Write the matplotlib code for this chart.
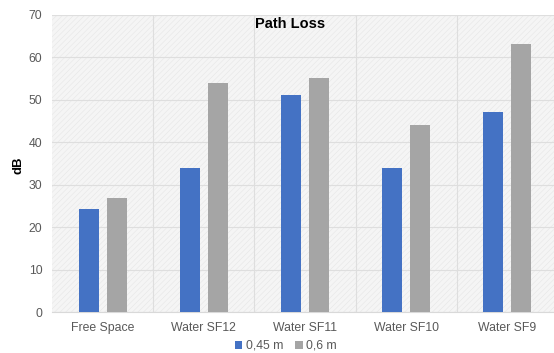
import numpy as np
import matplotlib.pyplot as plt
from matplotlib.patches import Rectangle

plt.rcParams['font.family'] = ['Liberation Sans', 'DejaVu Sans']
plt.rcParams['hatch.linewidth'] = 0.4

categories = ["Free Space", "Water SF12", "Water SF11", "Water SF10", "Water SF9"]
loss_045 = [24.3, 34, 51, 34, 47]
loss_06 = [26.9, 54, 55, 44, 63]

blue = "#4472C4"
gray = "#A5A5A5"
txt = "#595959"

fig = plt.figure(figsize=(5.54, 3.53), dpi=100)
ax = fig.add_axes([0.0939, 0.1153, 0.913, 0.843])

# light patterned plot background
ax.set_facecolor("#f5f5f5")
ax.add_patch(Rectangle((0, 0), 1, 1, transform=ax.transAxes, facecolor="none",
                       edgecolor="#e6e6e6", hatch="//////", lw=0, zorder=0))

x = np.arange(len(categories))
w = 0.197
ax.bar(x - 0.138, loss_045, w, color=blue, label="0,45 m", zorder=3)
ax.bar(x + 0.138, loss_06, w, color=gray, label="0,6 m", zorder=3)

ax.set_xlim(-0.5, len(categories) - 0.5)
ax.set_ylim(0, 70)
ax.set_yticks(range(0, 71, 10))
ax.set_xticks(x)
ax.set_xticklabels(categories)
ax.set_xticks(np.arange(0.5, len(categories) - 0.5), minor=True)
ax.grid(axis="y", color="#dedede", lw=0.8, zorder=1)
ax.grid(axis="x", which="minor", color="#dedede", lw=0.8, zorder=1)
ax.tick_params(axis="both", which="both", length=0, colors=txt, labelsize=8.8, pad=7)
ax.tick_params(axis="y", pad=7)
for s in ["top", "right", "left"]:
    ax.spines[s].set_visible(False)
ax.spines["bottom"].set_color("#d9d9d9")

fig.text(18 / 554, 1 - 165 / 353, "dB", rotation=90, ha="center", va="center",
         fontweight="bold", fontsize=9.5, color="black")
fig.text(290 / 554, 1 - 24 / 353, "Path Loss", ha="center", va="center",
         fontweight="bold", fontsize=10.5)

fig.legend(loc="center", bbox_to_anchor=(286 / 554, 1 - 346 / 353), ncol=2, frameon=False,
           fontsize=8.8, labelcolor=txt, handlelength=0.6, handleheight=0.6,
           handletextpad=0.3, columnspacing=1.0)

fig.savefig("out.png", dpi=100)
